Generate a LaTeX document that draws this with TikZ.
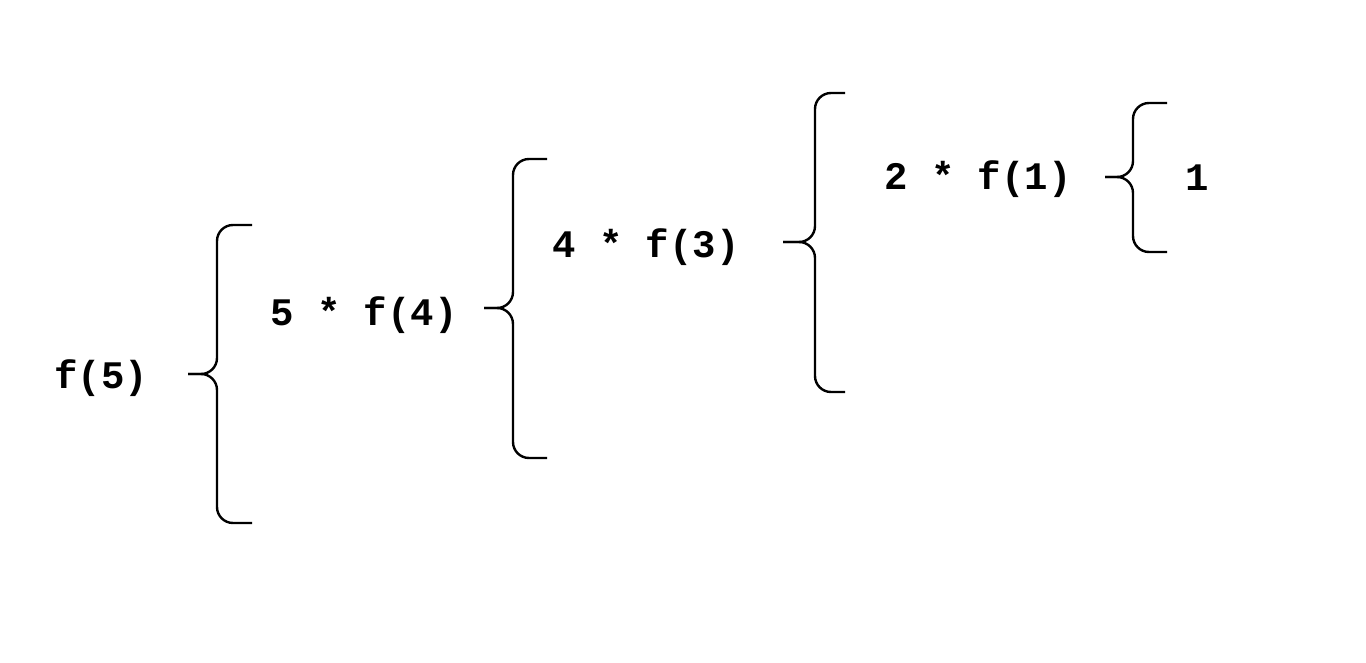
\documentclass[tikz,border=0pt]{standalone}
\usepackage{fontspec}
\setmonofont{Liberation Mono}
\tikzset{
  call/.style={anchor=base west, inner sep=0pt, font=\ttfamily\bfseries\fontsize{39}{43}\selectfont},
  curly/.style={line width=2.4pt, rounded corners=16pt}
}
\begin{document}
\begin{tikzpicture}[x=1pt,y=-1pt]
  \useasboundingbox (0,0) rectangle (1366,663);

  \node[call] (f5) at (54,388) {f(5)};
  \node[call] (f4) at (270,325) {5 * f(4)};
  \node[call] (f3) at (552,258) {4 * f(3)};
  \node[call] (f1) at (884,190) {2 * f(1)};
  \node[call] (one) at (1185,191) {1};

  % brace after f(5)
  \coordinate (tipa) at (188,374);
  \draw[curly] (252,225) -| (217,374) -- (tipa);
  \draw[curly] (252,523) -| (217,374) -- (tipa);

  % brace after 5 * f(4)
  \coordinate (tipb) at (484,308);
  \draw[curly] (547,159) -| (513,308) -- (tipb);
  \draw[curly] (547,458) -| (513,308) -- (tipb);

  % brace after 4 * f(3)
  \coordinate (tipc) at (783,242);
  \draw[curly] (845,93) -| (815,242) -- (tipc);
  \draw[curly] (845,392) -| (815,242) -- (tipc);

  % brace after 2 * f(1)
  \coordinate (tipd) at (1105,177);
  \draw[curly] (1167,103) -| (1133,177) -- (tipd);
  \draw[curly] (1167,252) -| (1133,177) -- (tipd);
\end{tikzpicture}
\end{document}
